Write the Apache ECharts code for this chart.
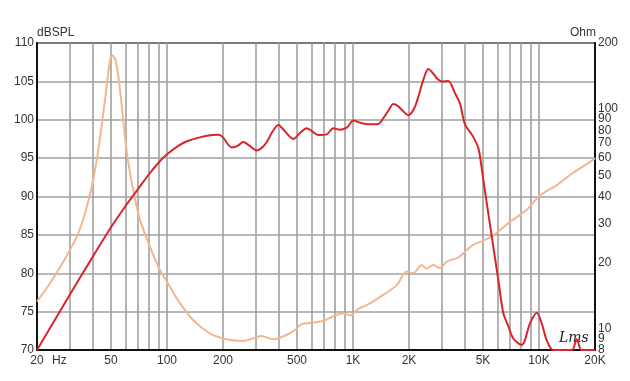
<!DOCTYPE html>
<html>
<head>
<meta charset="utf-8">
<script src="https://cdn.jsdelivr.net/npm/echarts@6/dist/echarts.min.js"></script>
<style>
html,body{margin:0;padding:0;background:#fff;}
#c{width:630px;height:381px;}
</style>
</head>
<body>
<div id="c"></div>
<script>
// Frequency response (dB SPL)
const splFreq = [20,30,40,50,60,70,80,90,100,115,128,150,175,190,200,223,240,257,275,304,325,344,370,397,420,478,520,564,610,650,722,784,852,930,1004,1091,1234,1368,1456,1560,1648,1740,1828,1982,2154,2388,2541,2704,2850,3000,3252,3534,3760,4000,4400,4720,4900,5128,5572,6040,6428,6840,7276,8072,8954,9726,10330,10990,11940,15000,15950,16950,20000];
const splDb = [70,77.2,82.2,86.0,88.8,91.0,92.9,94.4,95.5,96.6,97.2,97.7,98.0,98.05,97.7,96.4,96.6,97.1,96.7,96.0,96.4,97.1,98.5,99.3,98.8,97.5,98.3,98.9,98.4,98.0,98.1,98.9,98.7,99.0,99.9,99.6,99.4,99.45,100.2,101.3,102.05,101.8,101.3,100.6,101.7,105.2,106.6,106.0,105.3,105.0,105.05,103.45,102.1,99.4,97.9,96.3,94.0,90.6,84.8,79.15,74.8,73.1,71.5,70.65,73.5,74.85,73.5,71.3,70,70,71.4,70,70];

// Impedance (Ohm)
const impFreq = [20,23.5,27.7,32.7,36.2,39.4,42.7,46.4,49.4,50.9,53.2,55.9,60.6,65.8,71.6,81,91.6,104,115,138,170,209,257,292,322,372,438,488,529,612,694,784,888,966,1052,1233,1452,1720,1942,2108,2336,2484,2704,2936,3190,3680,4088,4420,5032,5710,6990,8560,10180,12460,15260,19540,20000];
const impOhm = [13.3,16.1,20.2,26.2,33.5,44.3,65.1,110,167,176,164,122,65.1,42.8,31.3,23.6,18.5,15.5,13.4,10.95,9.53,8.95,8.79,9.04,9.26,8.95,9.36,9.87,10.5,10.66,10.88,11.4,11.75,11.5,12.2,13.05,14.25,15.8,18.2,17.9,19.5,18.8,19.5,18.9,20.2,21.1,22.8,24.1,25.2,26.7,30.7,34.7,40.6,45.1,51.3,58.7,60];

// Axis ticks / labels
const freqGrid = [20,30,40,50,60,70,80,90,100,200,300,400,500,600,700,800,900,1000,2000,3000,4000,5000,6000,7000,8000,9000,10000,20000];
const freqLabels = [20,50,100,200,500,1000,2000,5000,10000,20000];
const ohmLabels = [8,10,20,30,40,50,60,70,80,90,100,200];
const ohmLabelsExtra = [9]; // drawn on a twin axis so it is not hidden by overlap logic

const lg = Math.log10;
const fmtFreq = v => {
  const f = Math.round(Math.pow(10, v));
  return f >= 1000 ? (f / 1000) + 'K' : String(f);
};
const fmtOhm = v => String(Math.round(Math.pow(10, v)));

const chart = echarts.init(document.getElementById('c'), null, {renderer: 'canvas'});
const labelFont = {color: '#333', fontSize: 12, fontFamily: '"Liberation Sans", Arial, sans-serif'};

chart.setOption({
  animation: false,
  backgroundColor: '#fff',
  grid: {left: 37, right: 35, top: 43, bottom: 31, show: true, borderColor: '#111', borderWidth: 2, backgroundColor: 'transparent'},
  xAxis: {
    type: 'value', min: lg(20), max: lg(20000),
    axisLine: {show: true, lineStyle: {color: '#111', width: 2}},
    axisTick: {show: false, customValues: freqGrid.map(lg)},
    axisLabel: Object.assign({customValues: freqLabels.map(lg), formatter: fmtFreq, margin: 5, hideOverlap: false, showMinLabel: true, showMaxLabel: true}, labelFont),
    splitLine: {show: true, lineStyle: {color: '#a0a0a0', width: 1.6}}
  },
  yAxis: [
    {
      type: 'value', min: 70, max: 110, interval: 5,
      axisLine: {show: true, lineStyle: {color: '#111', width: 2}},
      axisTick: {show: false},
      axisLabel: Object.assign({margin: 3}, labelFont),
      splitLine: {show: true, lineStyle: {color: '#a0a0a0', width: 1.6}}
    },
    {
      type: 'value', min: lg(8), max: lg(200), position: 'right',
      axisLine: {show: true, lineStyle: {color: '#111', width: 2}},
      axisTick: {show: false, customValues: ohmLabels.map(lg)},
      axisLabel: Object.assign({customValues: ohmLabels.map(lg), formatter: fmtOhm, margin: 3, hideOverlap: false, showMinLabel: true, showMaxLabel: true}, labelFont),
      splitLine: {show: false}
    },
    {
      type: 'value', min: lg(8), max: lg(200), position: 'right',
      axisLine: {show: false},
      axisTick: {show: false, customValues: ohmLabelsExtra.map(lg)},
      axisLabel: Object.assign({customValues: ohmLabelsExtra.map(lg), formatter: fmtOhm, margin: 3, showMinLabel: true, showMaxLabel: true}, labelFont),
      splitLine: {show: false}
    }
  ],
  series: [
    {
      type: 'line', yAxisIndex: 1, showSymbol: false, smooth: 0.3,
      lineStyle: {color: '#f4b593', width: 2},
      data: impFreq.map((f, i) => [lg(f), lg(impOhm[i])])
    },
    {
      type: 'line', yAxisIndex: 0, showSymbol: false, smooth: 0.3,
      lineStyle: {color: '#d9242b', width: 2},
      data: splFreq.map((f, i) => [lg(f), splDb[i]])
    }
  ],
  graphic: [
    {type: 'text', left: 37, top: 27, style: {text: 'dBSPL', fill: '#333', font: '12px "Liberation Sans", Arial, sans-serif'}},
    {type: 'text', left: 570, top: 27, style: {text: 'Ohm', fill: '#333', font: '12px "Liberation Sans", Arial, sans-serif'}},
    {type: 'text', left: 52, top: 355, style: {text: 'Hz', fill: '#333', font: '12px "Liberation Sans", Arial, sans-serif'}},
    {type: 'text', left: 559, top: 331, style: {text: 'Lms', fill: '#222', font: 'italic 14px "DejaVu Serif", serif'}}
  ]
});
</script>
</body>
</html>
